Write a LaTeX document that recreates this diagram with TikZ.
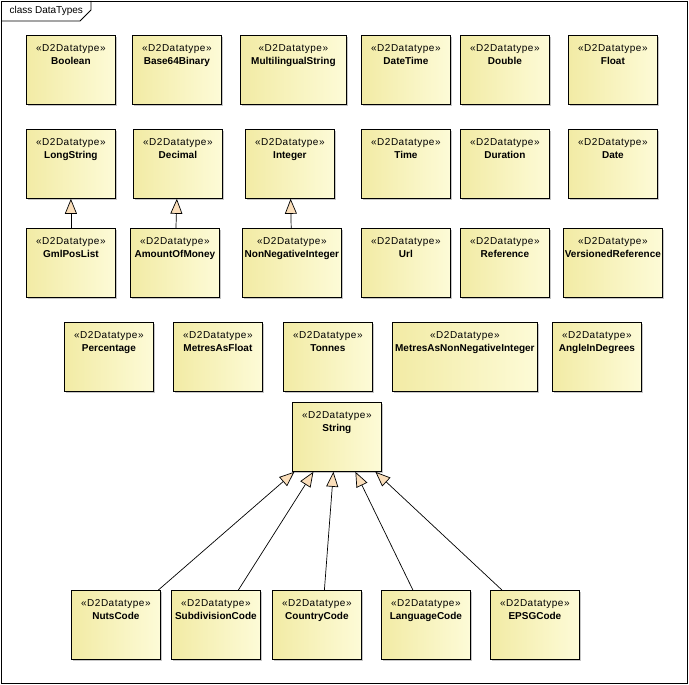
\documentclass[tikz,border=0pt]{standalone}
\usepackage{fontspec}
\setmainfont{Liberation Sans}
\usetikzlibrary{arrows.meta,shadows}
\definecolor{boxleft}{RGB}{242,235,165}
\definecolor{boxright}{RGB}{253,251,215}
\definecolor{tipfill}{RGB}{250,222,186}
\newcommand{\stereo}{{\addfontfeature{LetterSpace=5}«D2Datatype»}}
\begin{document}
\begin{tikzpicture}[x=1pt,y=-1pt,
                every node/.style={font=\fontsize{10}{13}\selectfont},
                dtype/.style={draw, line width=0.8pt, anchor=north west, minimum width=89pt, minimum height=69pt, inner sep=0pt,
                    left color=boxleft, right color=boxright,
                    drop shadow={shadow xshift=2pt, shadow yshift=-2pt, fill=black!22, opacity=1},
                    label={[align=center, anchor=north, inner sep=0pt, yshift=-9.5pt]north:{\stereo\\\textbf{#1}}}},
                gen/.style={-{Triangle[length=15pt,width=12pt,fill=tipfill]}, line width=0.7pt}]
                \useasboundingbox (0,0) rectangle (689,685);
                \draw [line width=0.8pt] (1,1) rectangle (687,683);
                \draw [line width=0.8pt] (1,21) -- (80,21) -- (91,10) -- (91,1);
                \node [anchor=west] (title) at (6,11) {class DataTypes};

                \node [dtype=Boolean] (boolean) at (26,35) {};
                \node [dtype=Base64Binary] (base64) at (132,35) {};
                \node [dtype=MultilingualString, minimum width=106pt] (multi) at (240,35) {};
                \node [dtype=DateTime] (datetime) at (361,35) {};
                \node [dtype=Double] (double) at (460,35) {};
                \node [dtype=Float] (float) at (568,35) {};

                \node [dtype=LongString] (longstr) at (26,129) {};
                \node [dtype=Decimal] (decimal) at (133,129) {};
                \node [dtype=Integer] (integer) at (245,129) {};
                \node [dtype=Time] (time) at (361,129) {};
                \node [dtype=Duration] (duration) at (460,129) {};
                \node [dtype=Date] (date) at (568,129) {};

                \node [dtype=GmlPosList] (gmlpos) at (26,228) {};
                \node [dtype=AmountOfMoney] (money) at (130,228) {};
                \node [dtype=NonNegativeInteger, minimum width=99pt] (nonneg) at (242,228) {};
                \node [dtype=Url] (url) at (361,228) {};
                \node [dtype=Reference] (reference) at (460,228) {};
                \node [dtype=VersionedReference, minimum width=99pt] (versioned) at (563,228) {};

                \node [dtype=Percentage] (percentage) at (64,322) {};
                \node [dtype=MetresAsFloat] (metresfloat) at (173,322) {};
                \node [dtype=Tonnes] (tonnes) at (283,322) {};
                \node [dtype=MetresAsNonNegativeInteger, minimum width=145pt] (metresint) at (392,322) {};
                \node [dtype=AngleInDegrees] (angle) at (552,322) {};

                \node [dtype=String] (string) at (292,402) {};

                \node [dtype=NutsCode] (nuts) at (71,590) {};
                \node [dtype=SubdivisionCode] (subdiv) at (171,590) {};
                \node [dtype=CountryCode] (country) at (272,590) {};
                \node [dtype=LanguageCode] (language) at (381,590) {};
                \node [dtype=EPSGCode] (epsg) at (490,590) {};

                \draw [gen] (gmlpos) -- (longstr);
                \draw [gen] (money) -- (decimal);
                \draw [gen] (nonneg) -- (integer);
                \draw [gen] ([xshift=42.5pt]nuts.north) -- ([xshift=-42.5pt]string.south);
                \draw [gen] ([xshift=22.5pt]subdiv.north) -- ([xshift=-23.5pt]string.south);
                \draw [gen] ([xshift=7.5pt]country.north) -- ([xshift=-3.5pt]string.south);
                \draw [gen] ([xshift=-13pt]language.north) -- ([xshift=18.5pt]string.south);
                \draw [gen] ([xshift=-33pt]epsg.north) -- ([xshift=38.5pt]string.south);
            \end{tikzpicture}
\end{document}
